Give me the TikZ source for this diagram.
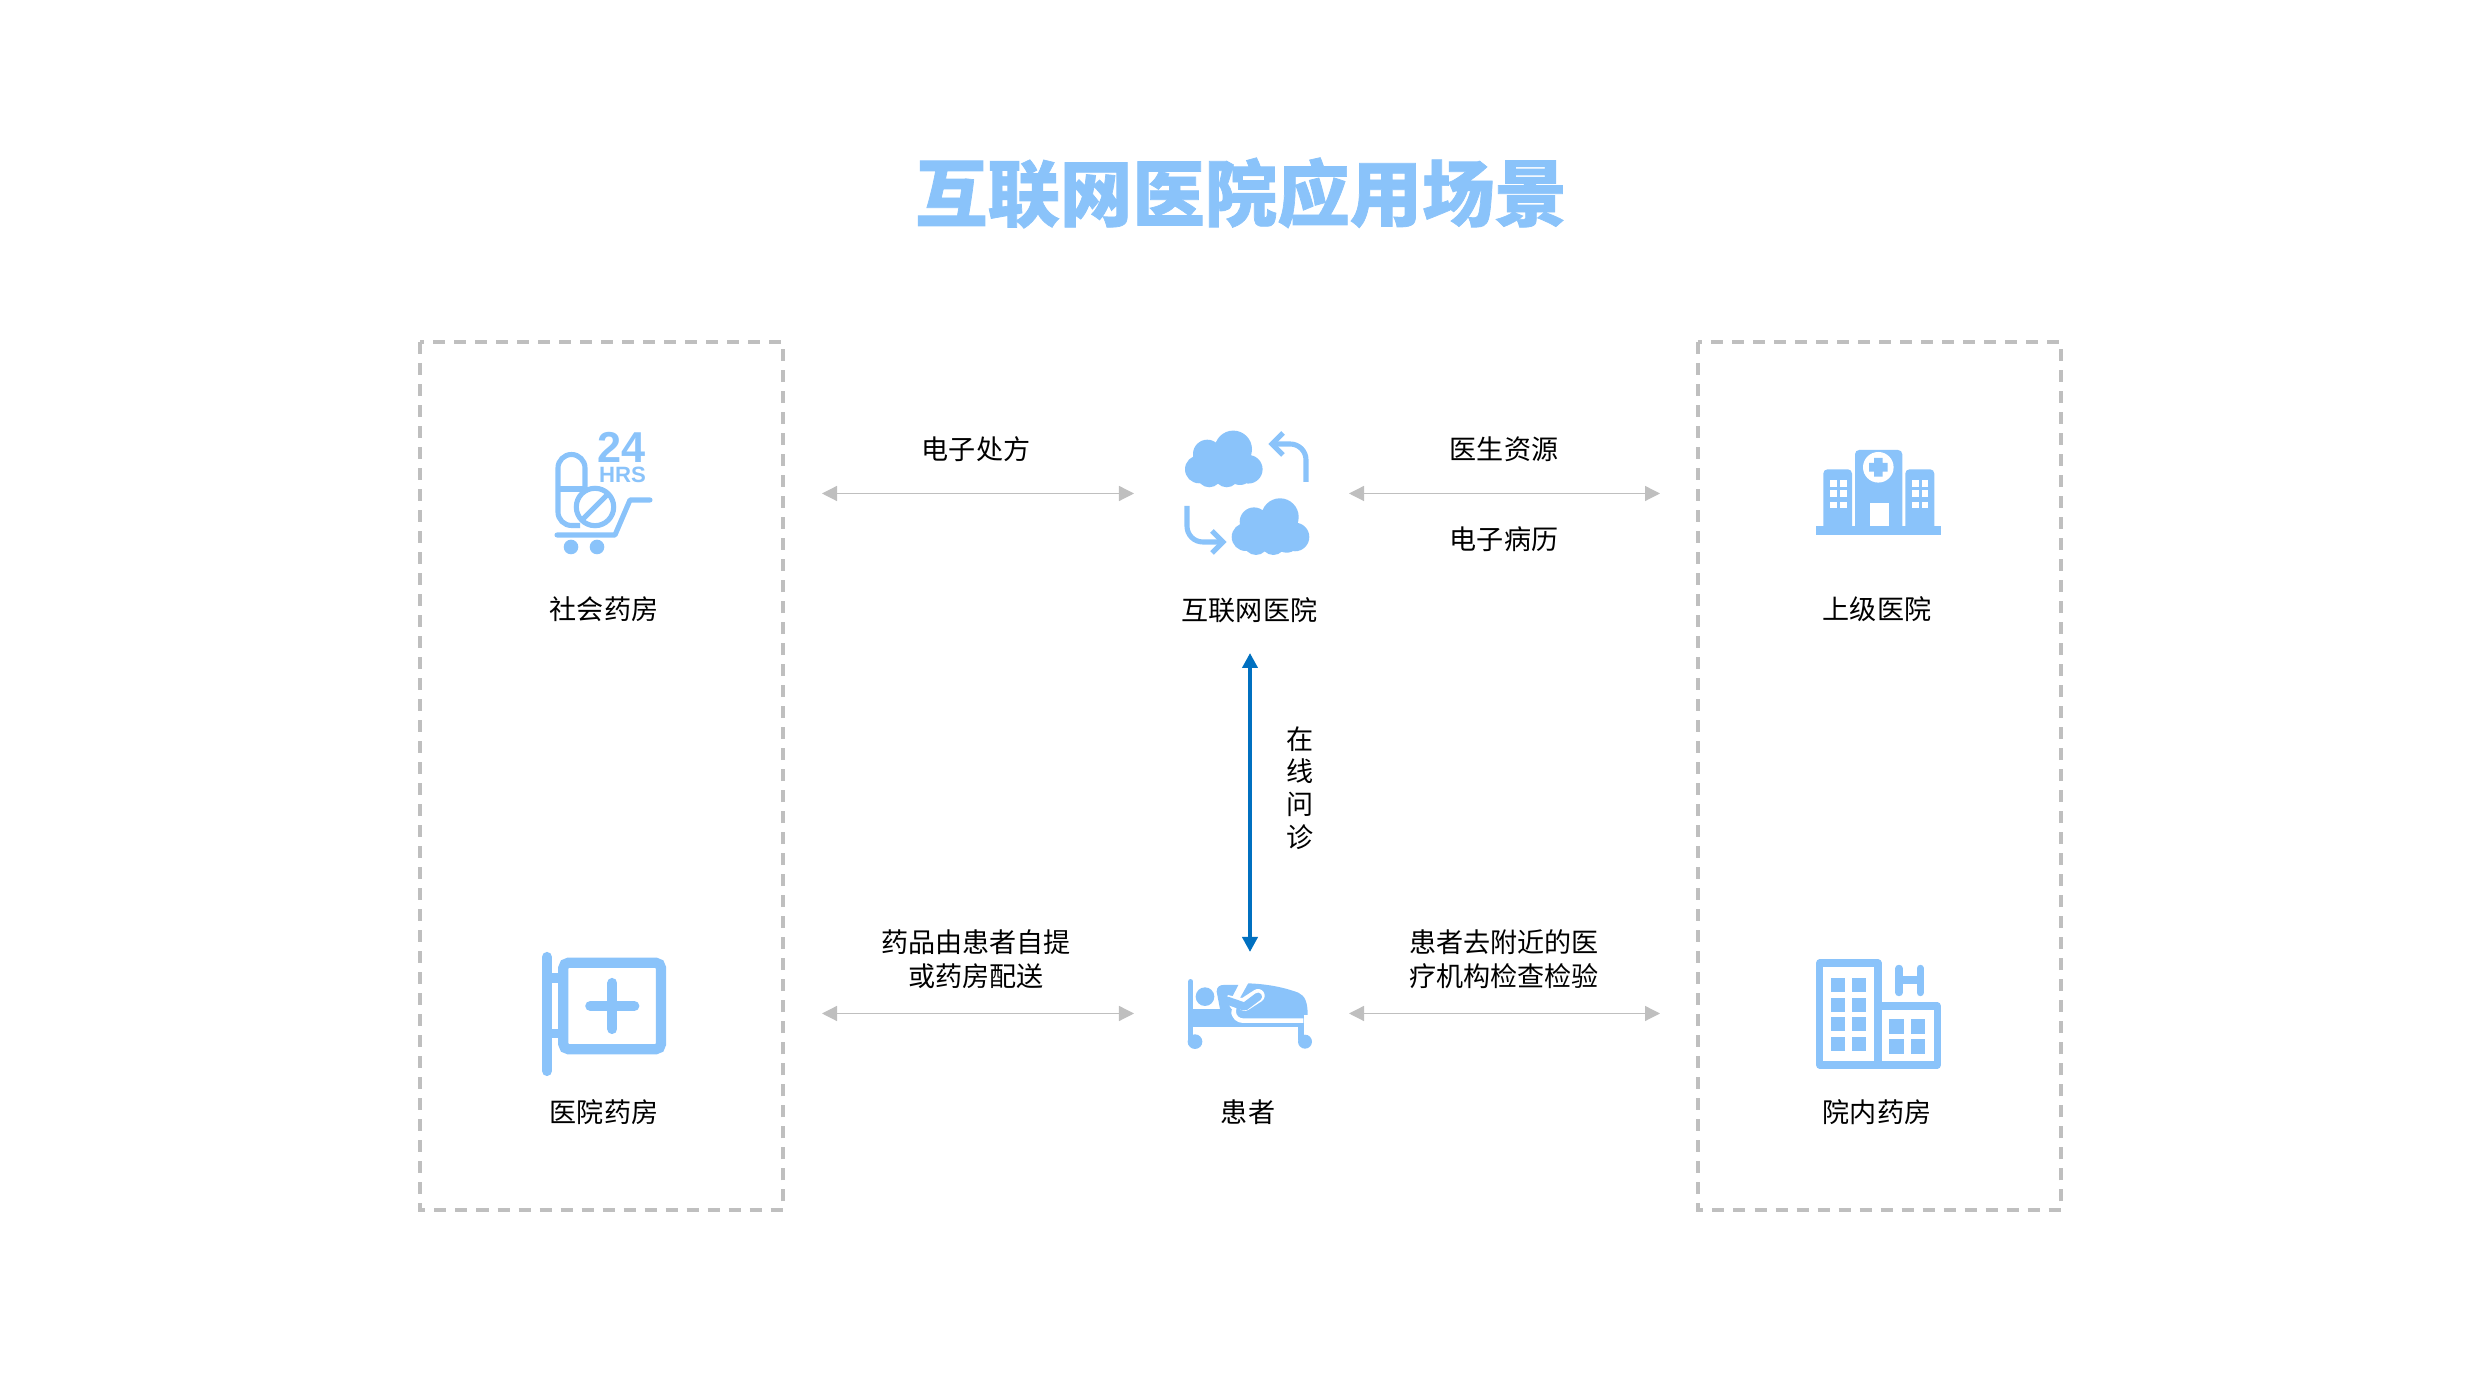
\documentclass[tikz,border=0pt]{standalone}
\usepackage{fontspec}
\setmainfont{Noto Sans CJK SC}
\newfontfamily\titlefont[FakeBold=1]{Noto Sans CJK SC Black}
\newfontfamily\hoursfont{Liberation Sans}
\usetikzlibrary{arrows.meta}
\definecolor{iconblue}{RGB}{138,195,250}
\definecolor{linkblue}{RGB}{0,112,192}
\definecolor{linkgrey}{RGB}{191,191,191}
\tikzset{
	dashbox/.style={draw=linkgrey, line width=0.95pt, dash pattern=on 0.12cm off 0.09cm},
	greylink/.style={{Triangle[length=0.15cm,width=0.15cm]}-{Triangle[length=0.15cm,width=0.15cm]}, linkgrey, line width=0.35pt},
	bluelink/.style={{Triangle[length=0.15cm,width=0.15cm]}-{Triangle[length=0.15cm,width=0.15cm]}, linkblue, line width=1.1pt},
	iconline/.style={draw=iconblue, line width=1.45pt},
	label/.style={inner sep=0pt, align=center, font=\fontsize{7.7}{9.6}\selectfont, text=black},
	cloudicon/.pic={
		\fill[iconblue] (-25,10.3) circle[radius=14] (-16.7,-5) circle[radius=14.3] (9.3,-9.7) circle[radius=18.7]
			(24.3,10.3) circle[radius=14.3] (-14.7,16) circle[radius=12.3] (2.7,16) circle[radius=12.3]
			(16,12.7) circle[radius=13.3];
		\fill[iconblue] (-20,-5) rectangle (20,14);
	}
}
\begin{document}
\begin{tikzpicture}[x=0.01cm, y=-0.01cm]
		\useasboundingbox (0,0) rectangle (2480,1395);
		\node[inner sep=0pt, font=\titlefont\fontsize{20.6}{22}\selectfont, text=iconblue] (title) at (1241,193) {互联网医院应用场景};
		\draw[dashbox] (420,342) rectangle (783,1210);
		\draw[dashbox] (1698,342) rectangle (2061,1210);

		\node[label] (shop) at (604,609) {社会药房};
		\node[label] (net) at (1249.5,610) {互联网医院};
		\node[label] (upper) at (1877,609) {上级医院};
		\node[label] (ward) at (604,1112) {医院药房};
		\node[label] (patient) at (1248,1112) {患者};
		\node[label] (inner) at (1877,1112) {院内药房};
		\node[label] (rx) at (976,449) {电子处方};
		\node[label] (doctor) at (1504,449) {医生资源};
		\node[label] (record) at (1504,539) {电子病历};
		\node[label] (drug) at (976,959.5) {药品由患者自提\\或药房配送};
		\node[label] (check) at (1504,959.5) {患者去附近的医\\疗机构检查检验};
		\node[label, font=\fontsize{7.7}{9.3}\selectfont] (online) at (1300,788) {在\\线\\问\\诊};

		\coordinate (shopE) at (822,493.5);
		\coordinate (netW) at (1134,493.5);
		\coordinate (netE) at (1349,493.5);
		\coordinate (upperW) at (1660,493.5);
		\coordinate (wardE) at (822,1013.5);
		\coordinate (patW) at (1134,1013.5);
		\coordinate (patE) at (1349,1013.5);
		\coordinate (innerW) at (1660,1013.5);
		\coordinate (netS) at (1250,653);
		\coordinate (patN) at (1250,952);
		\draw[greylink] (shopE) -- (netW);
		\draw[greylink] (netE) -- (upperW);
		\draw[greylink] (wardE) -- (patW);
		\draw[greylink] (patE) -- (innerW);
		\draw[bluelink] (netS) -- (patN);

		\node[inner sep=0pt, text=iconblue, font=\hoursfont\bfseries\fontsize{12.3}{12}\selectfont] (hours) at (622,447) {24};
		\node[inner sep=0pt, text=iconblue, font=\hoursfont\bfseries\fontsize{6.3}{6.3}\selectfont] (hrs) at (622.5,475) {HRS};
		\draw[iconline] (585,490) -- (585,468) arc[start angle=0, end angle=-180, radius=13.5] -- (558,512) arc[start angle=180, end angle=90, radius=13.5] -- (580,525.5);
		\draw[iconline] (558,489) -- (584,489);
		\draw[iconline] (595,507) circle[radius=18.7];
		\draw[iconline] (583,519) -- (607,495);
		\draw[iconline, line cap=round, line join=round] (557,535) -- (615,535) -- (630,500) -- (650,500);
		\fill[iconblue] (571,547) circle[radius=7.3] (597,547) circle[radius=7.3];

		\pic at (1224,459) {cloudicon};
		\pic at (1270.7,526.7) {cloudicon};
		\draw[iconline, rounded corners=4.5pt] (1306,482) -- (1306,444) -- (1274,444);
		\draw[iconline] (1283,433) -- (1272,444) -- (1283,455);
		\draw[iconline, rounded corners=4.5pt] (1187,506) -- (1187,542) -- (1221,542);
		\draw[iconline] (1212,531) -- (1223,542) -- (1212,553);

		\fill[iconblue] (1816,526) rectangle (1941,535);
		\fill[iconblue, rounded corners=1.2pt] (1855,535) -- (1855,450) -- (1902.3,450) -- (1902.3,535) -- cycle;
		\fill[iconblue, rounded corners=1.2pt] (1823.3,530) -- (1823.3,469.3) -- (1852,469.3) [sharp corners] -- (1852,530) -- cycle;
		\fill[iconblue, rounded corners=1.2pt] (1934.3,530) -- (1934.3,469.3) -- (1905.3,469.3) [sharp corners] -- (1905.3,530) -- cycle;
		\fill[white] (1878.3,467.3) circle[radius=15.3];
		\fill[iconblue] (1869,463) rectangle (1887.6,471.6) (1874,458) rectangle (1882.6,476.6);
		\fill[white] (1870,502.7) rectangle (1888.7,526);
		\foreach \wx in {1833.3,1843.3,1915.7,1925}
			\foreach \wy in {483.3,493.3,505}
				\fill[white] (\wx-3.3,\wy-3.3) rectangle (\wx+3.3,\wy+3.3);

		\draw[iconline, line width=2.9pt, line cap=round] (547,957) -- (547,1071);
		\draw[iconline, line width=2.9pt, rounded corners=1.5pt] (563.3,962.7) rectangle (661,1049.3);
		\draw[iconline, line width=2.7pt] (547,978) -- (563,978) (547,1033.7) -- (563,1033.7);
		\draw[iconline, line width=2.9pt, line cap=round] (590.3,1006) -- (634.3,1006) (612.3,983) -- (612.3,1029);

		\begin{scope}[shift={(1170,960)}, scale=1/3]
			\draw[iconblue, line width=1.5pt, line cap=round] (62,65) -- (62,240);
			\fill[iconblue] (62,147) rectangle (402,200);
			\fill[iconblue] (385,195) rectangle (402,240);
			\fill[iconblue] (75,245) circle[radius=22] (405,245) circle[radius=21];
			\fill[iconblue] (105,110) circle[radius=28];
			\fill[iconblue] (232,70) .. controls (300,72) and (350,85) .. (385,98) .. controls (405,108) and (413,125) .. (413,165) -- (190,165) -- (190,135) -- cycle;
			\draw[white, line width=1.3pt, line join=round, rounded corners=2.5pt] (232,60) -- (190,135) -- (192,182) -- (400,182);
			\fill[iconblue] (140,95) .. controls (140,80) and (150,75) .. (160,75) -- (205,75) -- (188,108) -- (165,118) -- (186,150) -- (160,150) -- (150,147) -- cycle;
			\draw[white, line width=3.8pt, line cap=round] (224,133) -- (264,107);
			\draw[white, line width=1.3pt] (172,112) -- (222,122);
			\draw[iconblue, line width=2.3pt, line cap=round, line join=round] (172,122) -- (224,140) -- (264,110);
		\end{scope}

		\draw[iconline, line width=2pt, line join=round] (1819.7,963) rectangle (1878,1065);
		\draw[iconline, line width=2pt, line join=round] (1878,1006) -- (1937.3,1006) -- (1937.3,1065) -- (1878,1065);
		\foreach \wx in {1831.3,1852.3}
			\foreach \wy in {978.3,997.7,1017,1036.7}
				\fill[iconblue] (\wx,\wy) rectangle (\wx+14,\wy+14);
		\foreach \wx in {1889.3,1910.7}
			\foreach \wy in {1019,1039}
				\fill[iconblue] (\wx,\wy) rectangle (\wx+14.7,\wy+14.7);
		\draw[iconline, line width=2pt, line cap=round] (1899,968.3) -- (1899,992.7) (1920.3,968.3) -- (1920.3,992.7);
		\draw[iconline, line width=2pt] (1899,980) -- (1920.3,980);
	\end{tikzpicture}
\end{document}
